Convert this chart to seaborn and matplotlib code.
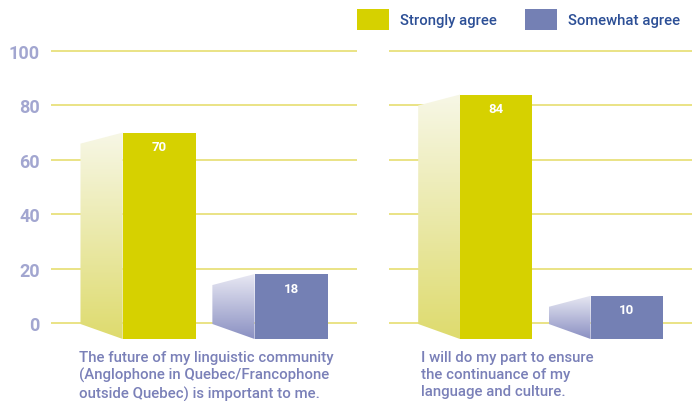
import numpy as np
import pandas as pd
import seaborn as sns
import matplotlib
matplotlib.use("Agg")
import matplotlib.pyplot as plt
from matplotlib.patches import Polygon, Rectangle
from matplotlib.colors import to_rgb

# ---- data ----
categories = [
    "The future of my linguistic community\n(Anglophone in Quebec/Francophone\noutside Quebec) is important to me.",
    "I will do my part to ensure\nthe continuance of my\nlanguage and culture.",
]
series = ["Strongly agree", "Somewhat agree"]
strongly_agree = [70, 84]
somewhat_agree = [18, 10]
y_ticks = [0, 20, 40, 60, 80, 100]

# ---- style ----
front_colors = {"Strongly agree": "#d6d100", "Somewhat agree": "#7480b4"}
side_top = {"Strongly agree": "#f7f7e6", "Somewhat agree": "#e8e8f3"}
side_bot = {"Strongly agree": "#dedb6e", "Somewhat agree": "#8a90c2"}
grid_color = "#e8e07c"
tick_color = "#a2a6d0"
cat_color = "#7a80b8"
legend_text_color = "#2c4f96"

sns.set_theme(style="white")
plt.rcParams["font.family"] = ["Roboto", "DejaVu Sans"]

W, H = 692, 402
fig = plt.figure(figsize=(W / 100, H / 100), dpi=100)

px_per_unit = 2.72
ax_top_px, ax_bot_px = 45, 345
zero_px = 324
ylim_top = (zero_px - ax_top_px) / px_per_unit
ylim_bot = (zero_px - ax_bot_px) / px_per_unit

panels = [(51, 357), (389, 692)]
xlim = (-0.82, 1.50)
bar_width = 0.553
side_w = 0.32
drop = 11 / px_per_unit
front_bottom = -(340 - zero_px) / px_per_unit
back_bottom = -(325 - zero_px) / px_per_unit

axes = []
for i, (x0p, x1p) in enumerate(panels):
    ax = fig.add_axes([x0p / W, (H - ax_bot_px) / H, (x1p - x0p) / W, (ax_bot_px - ax_top_px) / H])
    axes.append(ax)
    df = pd.DataFrame({"series": series, "value": [strongly_agree[i], somewhat_agree[i]]})
    sns.barplot(data=df, x="series", y="value", hue="series", palette=front_colors,
                ax=ax, width=bar_width, legend=False, saturation=1, zorder=3)
    for patch, name, val in zip(ax.patches, series, df["value"]):
        bx = patch.get_x()
        bw = patch.get_width()
        top = patch.get_height()
        patch.set_y(front_bottom)
        patch.set_height(top - front_bottom)
        patch.set_edgecolor("none")
        # side face with vertical gradient
        verts = [(bx, top), (bx - side_w, top - drop), (bx - side_w, back_bottom), (bx, front_bottom)]
        poly = Polygon(verts, closed=True, facecolor="none", edgecolor="none", transform=ax.transData)
        ax.add_patch(poly)
        c0 = np.array(to_rgb(side_top[name]))
        c1 = np.array(to_rgb(side_bot[name]))
        t = np.linspace(0, 1, 256)[:, None, None]
        grad = c0 * (1 - t) + c1 * t
        im = ax.imshow(grad, extent=[bx - side_w, bx, front_bottom, top], origin="upper",
                       aspect="auto", zorder=2, interpolation="bilinear")
        im.set_clip_path(poly)
        ax.text(bx + bw / 2, top - 14 / px_per_unit, f"{val}", ha="center", va="center",
                color="white", fontsize=9.5, fontweight="bold", zorder=5)
    ax.set_xlim(*xlim)
    ax.set_ylim(ylim_bot, ylim_top)
    ax.set_yticks(y_ticks)
    ax.yaxis.grid(True, color=grid_color, linewidth=1.3, zorder=0)
    ax.xaxis.grid(False)
    ax.set_axisbelow(True)
    for s in ax.spines.values():
        s.set_visible(False)
    ax.set_xticks([])
    ax.set_xlabel("")
    ax.set_ylabel("")
    ax.tick_params(axis="y", length=0, pad=8)
    if i == 0:
        ax.set_yticklabels([str(v) for v in y_ticks], fontsize=13, fontweight="bold", color=tick_color)
    else:
        ax.set_yticklabels([])
    ax.patch.set_alpha(0)

# category labels
cat_x = [79, 421]
for cx, label in zip(cat_x, categories):
    fig.text(cx / W, 1 - 351 / H, label, ha="left", va="top", fontsize=10.8,
             color=cat_color, fontweight="medium", linespacing=1.27)

# legend
leg_items = [(357, 10, "Strongly agree"), (525, 10, "Somewhat agree")]
for lx, ly, name in leg_items:
    fig.add_artist(Rectangle((lx / W, 1 - (ly + 21) / H), 32 / W, 21 / H,
                             transform=fig.transFigure, facecolor=front_colors[name], edgecolor="none"))
    fig.text((lx + 43) / W, 1 - (ly + 11) / H, name, ha="left", va="center",
             fontsize=10.7, color=legend_text_color, fontweight="medium")

fig.savefig("out.png", dpi=100)
